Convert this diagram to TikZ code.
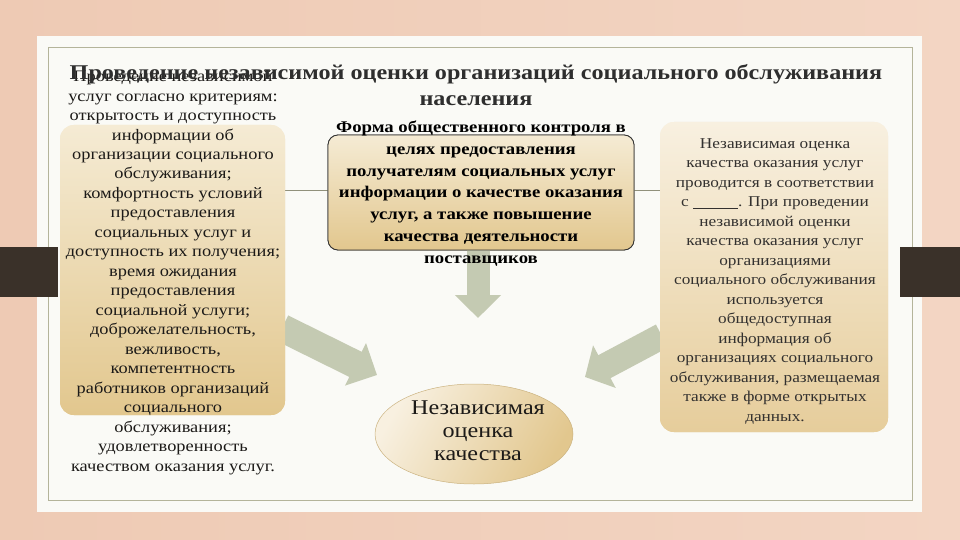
\documentclass[tikz,border=0pt]{standalone}
\usepackage{fontspec}
\setmainfont[FakeStretch=1.15]{Liberation Serif}
\usetikzlibrary{arrows.meta,shapes.geometric}
\definecolor{bgL}{HTML}{EECAB4}
\definecolor{bgR}{HTML}{F3D5C3}
\definecolor{cardc}{HTML}{FAFAF6}
\definecolor{framec}{HTML}{B4B49A}
\definecolor{barc}{HTML}{3A3129}
\definecolor{arrowc}{HTML}{C4CAB2}
\definecolor{boxtop}{HTML}{F5EBD4}
\definecolor{boxbot}{HTML}{E2C78E}
\definecolor{rboxtop}{HTML}{F8F0E0}
\definecolor{rboxbot}{HTML}{E6CD9B}
\definecolor{txtc}{HTML}{1C1A18}
\tikzset{
  panel/.style={rounded corners=14pt, top color=boxtop, bottom color=boxbot, draw=none, inner sep=0pt},
  centerpanel/.style={rounded corners=10pt, top color=boxtop, bottom color=boxbot, draw=black!80, line width=0.8pt, inner sep=0pt},
  fatarrow/.style={draw=arrowc, line cap=butt},
  txtleft/.style={font=\fontsize{16}{19.47}\selectfont, align=center, text=txtc, inner sep=0pt},
  txtcenter/.style={font=\bfseries\fontsize{16.3}{21.7}\selectfont, align=center, text=black, inner sep=0pt},
  txtright/.style={font=\fontsize{15}{19.5}\selectfont, align=center, text=txtc!90, inner sep=0pt},
  txttitle/.style={font=\bfseries\fontsize{21}{26}\selectfont, align=center, text=black!82, inner sep=0pt},
  txtell/.style={font=\fontsize{21}{23}\selectfont, align=center, text=txtc, inner sep=0pt}
}
\begin{document}
\begin{tikzpicture}[x=1pt,y=-1pt]
\useasboundingbox (0,0) rectangle (960,540);
\shade[left color=bgL, right color=bgR] (0,0) rectangle (960,540);
\fill[cardc] (37,36) rectangle (922,512);
\draw[framec, line width=0.8pt] (48,47) rectangle (912,500);
\fill[barc] (0,247) rectangle (58,297);
\fill[barc] (900,247) rectangle (960,297);

% boxes
\node[panel, minimum width=225pt, minimum height=290pt] (lbox) at (172.5,270) {};
\node[panel, top color=rboxtop, bottom color=rboxbot, minimum width=228pt, minimum height=310pt] (rbox) at (774,277) {};
\node[centerpanel, minimum width=306pt, minimum height=115pt] (cbox) at (481,192.5) {};
\draw[framec!80!black, line width=0.6pt] (lbox.east |- 0,190) -- (cbox.west |- 0,190);
\draw[framec!80!black, line width=0.6pt] (cbox.east |- 0,190) -- (rbox.west |- 0,190);

% arrows
\coordinate (dstart) at (478,245);
\coordinate (dtip) at (478,318);
\coordinate (lstart) at (282,328);
\coordinate (ltip) at (377,375);
\coordinate (rstart) at (662,336);
\coordinate (rtip) at (585,377);
\draw[fatarrow, line width=23pt, -{Triangle[width=45pt,length=23pt]}] (dstart) -- (dtip);
\draw[fatarrow, line width=28pt, -{Triangle[width=46pt,length=24pt]}] (lstart) -- (ltip);
\draw[fatarrow, line width=26pt, -{Triangle[width=47pt,length=22pt]}] (rstart) -- (rtip);
\node[panel, minimum width=225pt, minimum height=290pt] at (172.5,270) {};
\node[panel, top color=rboxtop, bottom color=rboxbot, minimum width=228pt, minimum height=310pt] at (774,277) {};
\node[centerpanel, minimum width=306pt, minimum height=115pt] at (481,192.5) {};

% ellipse
\node[ellipse, minimum width=198pt, minimum height=100pt, left color=rboxtop, right color=boxbot, shading angle=60, draw=boxbot!90!black, line width=0.5pt] (ell) at (474,434) {};
\node[txtell, anchor=base] (etext) at (478,460) {Независимая\\оценка\\качества};

% texts
\node[txtleft, anchor=base] (ltext) at (173,471) {Проведение независимой\\услуг согласно критериям:\\открытость и доступность\\информации об\\организации социального\\обслуживания;\\комфортность условий\\предоставления\\социальных услуг и\\доступность их получения;\\время ожидания\\предоставления\\социальной услуги;\\доброжелательность,\\вежливость,\\компетентность\\работников организаций\\социального\\обслуживания;\\удовлетворенность\\качеством оказания услуг.};
\node[txtcenter, anchor=base] (ctext) at (481,263) {Форма общественного контроля в\\целях предоставления\\получателям социальных услуг\\информации о качестве оказания\\услуг, а также повышение\\качества деятельности\\поставщиков};
\node[txtright, anchor=base] (rtext) at (775,421) {Независимая оценка\\качества оказания услуг\\проводится в соответствии\\с \underline{\hspace{3em}}. При проведении\\независимой оценки\\качества оказания услуг\\организациями\\социального обслуживания\\используется\\общедоступная\\информация об\\организациях социального\\обслуживания, размещаемая\\также в форме открытых\\данных.};
\node[txttitle, anchor=base] (title) at (476,106) {Проведение независимой оценки организаций социального обслуживания\\населения};
\end{tikzpicture}
\end{document}
